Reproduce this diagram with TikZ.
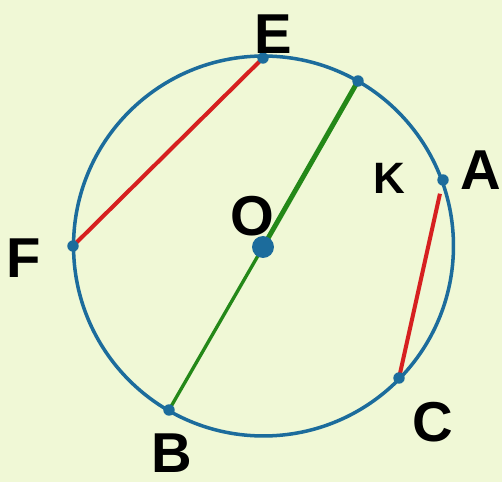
\documentclass[tikz,border=0pt]{standalone}
\usepackage{fontspec}
\setmainfont{Liberation Sans}
\usepackage{tikz}
\definecolor{bgcol}{RGB}{240,248,214}
\definecolor{circcol}{RGB}{28,108,156}
\definecolor{chordred}{RGB}{214,32,32}
\definecolor{diamgreen}{RGB}{36,136,24}
\tikzset{pt/.style={circle,fill=circcol,inner sep=0pt,minimum size=6.5pt},
  lbl/.style={inner sep=0pt,font=\fontsize{32}{32}\selectfont\bfseries},
  chord/.style={chordred,line width=2.3pt}}
\begin{document}
\begin{tikzpicture}[x=0.02cm,y=-0.02cm]
    \fill[bgcol] (0,0) rectangle (502,482);
    \useasboundingbox (0,0) rectangle (502,482);
    \draw[circcol,line width=2pt] (263.5,246) circle [radius=3.8cm];
    % points on the circle
    \coordinate (E) at (263,58);
    \coordinate (D) at (358,81);
    \coordinate (A) at (443,180);
    \coordinate (F) at (73,246);
    \coordinate (C) at (399,378);
    \coordinate (B) at (169,410);
    \coordinate (O) at (263,247);
    \draw[chord] (E) -- (F);
    \draw[chord,shorten <=8pt] (A) -- (C);
    \draw[diamgreen,line width=2.8pt] (D) -- (O);
    \draw[diamgreen,line width=1.9pt] (O) -- (B);
    \foreach \p in {E,D,A,F,C,B}
    \node[pt] (\p dot) at (\p) {};
    \node[pt,minimum size=12.5pt] (O dot) at (O) {};
    % labels
    \node[lbl] (E label) at (273,34) {E};
    \node[lbl] (A label) at (481,170) {A};
    \node[lbl] (O label) at (252,216) {O};
    \node[lbl] (F label) at (24,258) {F};
    \node[lbl] (C label) at (433,422) {C};
    \node[lbl] (B label) at (172,453) {B};
    \node[lbl,font=\fontsize{25}{25}\selectfont\bfseries] (K label) at (389,178) {K};
  \end{tikzpicture}
\end{document}
